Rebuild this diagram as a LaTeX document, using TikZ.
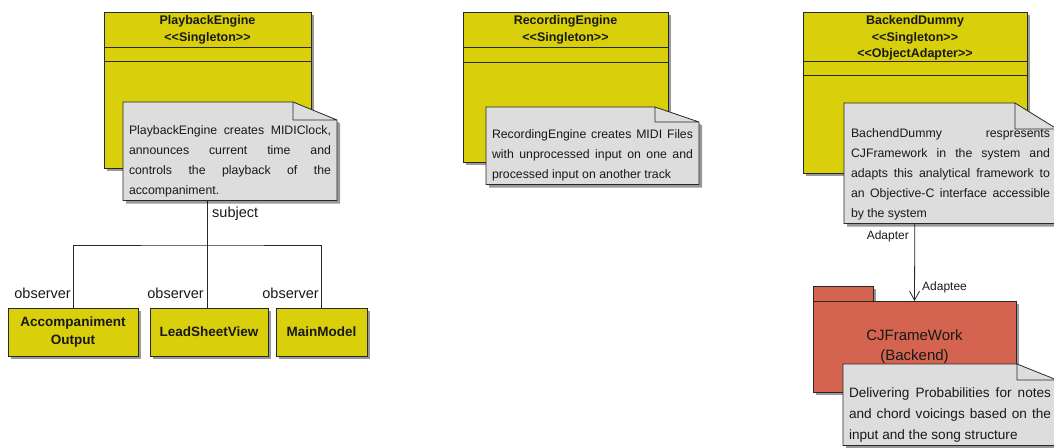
\documentclass[tikz,border=0pt]{standalone}
\usepackage{fontspec}
\newfontfamily\umlfont{Liberation Sans}
\usepackage{tikz}
\usetikzlibrary{arrows.meta, positioning, calc, shadows}
\definecolor{umlyellow}{RGB}{217, 208, 11}
\definecolor{notegray}{RGB}{221, 221, 221}
\definecolor{pkgred}{RGB}{212, 100, 80}
\definecolor{linegray}{RGB}{40, 40, 40}
\definecolor{textgray}{RGB}{25, 25, 25}

\tikzset{note fold width/.initial=44pt, note fold height/.initial=18pt}
\newdimen\dogl \newdimen\dogb \newdimen\dogr \newdimen\dogt
\newdimen\dogfw \newdimen\dogfh
\makeatletter
\pgfdeclareshape{dognote}{
  \inheritsavedanchors[from=rectangle]
  \inheritanchorborder[from=rectangle]
  \inheritanchor[from=rectangle]{center}
  \inheritanchor[from=rectangle]{north}
  \inheritanchor[from=rectangle]{south}
  \inheritanchor[from=rectangle]{west}
  \inheritanchor[from=rectangle]{east}
  \inheritanchor[from=rectangle]{north west}
  \inheritanchor[from=rectangle]{north east}
  \inheritanchor[from=rectangle]{south west}
  \inheritanchor[from=rectangle]{south east}
  \backgroundpath{
    \southwest \dogl=\pgf@x \dogb=\pgf@y
    \northeast \dogr=\pgf@x \dogt=\pgf@y
    \pgfmathsetlength\dogfw{\pgfkeysvalueof{/tikz/note fold width}}
    \pgfmathsetlength\dogfh{\pgfkeysvalueof{/tikz/note fold height}}
    \pgfpathmoveto{\pgfqpoint{\dogl}{\dogb}}
    \pgfpathlineto{\pgfqpoint{\dogl}{\dogt}}
    \pgfpathlineto{\pgfqpoint{\dimexpr\dogr-\dogfw\relax}{\dogt}}
    \pgfpathlineto{\pgfqpoint{\dogr}{\dimexpr\dogt-\dogfh\relax}}
    \pgfpathlineto{\pgfqpoint{\dogr}{\dogb}}
    \pgfpathclose
    \pgfpathmoveto{\pgfqpoint{\dogr}{\dimexpr\dogt-\dogfh\relax}}
    \pgfpathlineto{\pgfqpoint{\dimexpr\dogr-\dogfw\relax}{\dimexpr\dogt-\dogfh\relax}}
    \pgfpathlineto{\pgfqpoint{\dimexpr\dogr-\dogfw\relax}{\dogt}}
  }
}
\makeatother

\begin{document}
\begin{tikzpicture}[
    x=1pt, y=-1pt,
    shadowed/.style={drop shadow={shadow xshift=3pt, shadow yshift=-3pt, opacity=0.4, fill=black}},
    classbox/.style={rectangle, draw=linegray, fill=umlyellow, line width=0.8pt, inner sep=0pt,
        outer sep=0pt, anchor=north west, shadowed},
    classname/.style={font=\umlfont\bfseries\fontsize{12.5}{16.5}\selectfont, text=textgray,
        align=center, inner sep=0pt},
    leafbox/.style={rectangle, draw=linegray, fill=umlyellow, line width=0.8pt, inner sep=0pt,
        outer sep=0pt, anchor=north west, minimum height=48pt, align=center, text=textgray,
        font=\umlfont\bfseries\fontsize{13.5}{18}\selectfont, shadowed},
    pkgbox/.style={rectangle, draw=linegray, fill=pkgred, line width=0.8pt, inner sep=0pt,
        outer sep=0pt, anchor=north west, align=center, text=textgray,
        font=\umlfont\fontsize{15}{19.5}\selectfont, shadowed},
    notebox/.style={shape=dognote, draw=linegray, fill=notegray, line width=0.8pt, inner ysep=0pt,
        inner xsep=6pt, outer sep=0pt, anchor=north west, text=textgray, align=justify,
        font=\umlfont\fontsize{12.3}{20}\selectfont, shadowed,
        execute at begin node={\hyphenpenalty=10000\rule{0pt}{#1}},
        execute at end node={\rule[-6.5pt]{0pt}{0pt}}},
    rolelabel/.style={font=\umlfont\fontsize{14.5}{17}\selectfont, text=textgray, inner sep=0pt},
    smalllabel/.style={font=\umlfont\fontsize{12}{14}\selectfont, text=textgray, inner sep=0pt},
    line/.style={draw=linegray, line width=0.8pt}
    ]
    \useasboundingbox (0,0) rectangle (1054,447);
    \clip (0,0) rectangle (1054,447);

    \node[classbox, minimum width=207pt, minimum height=156pt] (pb) at (104,12) {};
    \node[classname, below=3.4pt of pb.north] (pbname) {PlaybackEngine\\<<Singleton>>};
    \draw[line] ([yshift=-35pt]pb.north west) -- ([yshift=-35pt]pb.north east);
    \draw[line] ([yshift=-49pt]pb.north west) -- ([yshift=-49pt]pb.north east);

    \node[classbox, minimum width=205pt, minimum height=150pt] (rec) at (463,12) {};
    \node[classname, below=3.4pt of rec.north] (recname) {RecordingEngine\\<<Singleton>>};
    \draw[line] ([yshift=-35pt]rec.north west) -- ([yshift=-35pt]rec.north east);
    \draw[line] ([yshift=-50pt]rec.north west) -- ([yshift=-50pt]rec.north east);

    \node[classbox, minimum width=224pt, minimum height=161pt] (bd) at (803,12) {};
    \node[classname, below=3.4pt of bd.north] (bdname) {BackendDummy\\<<Singleton>>\\<<ObjectAdapter>>};
    \draw[line] ([yshift=-49pt]bd.north west) -- ([yshift=-49pt]bd.north east);
    \draw[line] ([yshift=-63pt]bd.north west) -- ([yshift=-63pt]bd.north east);

    \node[leafbox, minimum width=130pt] (acc) at (8,308) {Accompaniment\\Output};
    \node[leafbox, minimum width=118pt] (lsv) at (150,308) {LeadSheetView};
    \node[leafbox, minimum width=91pt] (mm) at (276,308) {MainModel};

    \coordinate (fork) at (207.5,245);
    \draw[line] (pb.south) -- (fork);
    \draw[line] (acc.north) |- (fork) -| (mm.north);
    \draw[line] (fork) -- (fork |- lsv.north);

    \node[pkgbox, minimum width=60pt, minimum height=15pt] (cjftab) at (813,286) {};
    \node[pkgbox, minimum width=203pt, minimum height=91pt] (cjf) at (813,301) {CJFrameWork\\(Backend)};
    \draw[line, -{Straight Barb[length=9pt, width=10pt]}] (bd.south) -- (cjf.north);

    \node[notebox=32pt, text width=202pt] (pbnote) at (123,102)
        {PlaybackEngine creates MIDIClock,\linebreak announces current time and\linebreak controls the playback of the\linebreak accompaniment.};
    \node[notebox=31pt, text width=201pt, note fold width=44pt, note fold height=15pt] (recnote) at (486,107)
        {RecordingEngine creates MIDI Files\linebreak with unprocessed input on one and\linebreak processed input on another track};
    \node[notebox=34pt, inner xsep=7pt, text width=199pt, note fold width=42pt, note fold height=26pt] (bdnote) at (844,103)
        {BachendDummy respresents\linebreak CJFramework in the system and\linebreak adapts this analytical framework to\linebreak an Objective-C interface accessible\linebreak by the system};
    \node[notebox=33pt, text width=202pt, font=\umlfont\fontsize{13.6}{21}\selectfont, note fold width=40pt, note fold height=16pt] (cjfnote) at (843,364)
        {Delivering Probabilities for notes\linebreak and chord voicings based on the\linebreak input and the song structure};

    \node[rolelabel, anchor=base west] (subjlbl) at (212,217) {subject};
    \node[rolelabel, anchor=base east] (obslbla) at (71,298) {observer};
    \node[rolelabel, anchor=base east] (obslblb) at (204,298) {observer};
    \node[rolelabel, anchor=base east] (obslblc) at (319,298) {observer};
    \node[smalllabel, anchor=base east] (adapterlbl) at (909,239) {Adapter};
    \node[smalllabel, anchor=base west] (adapteelbl) at (922,290) {Adaptee};
\end{tikzpicture}
\end{document}
